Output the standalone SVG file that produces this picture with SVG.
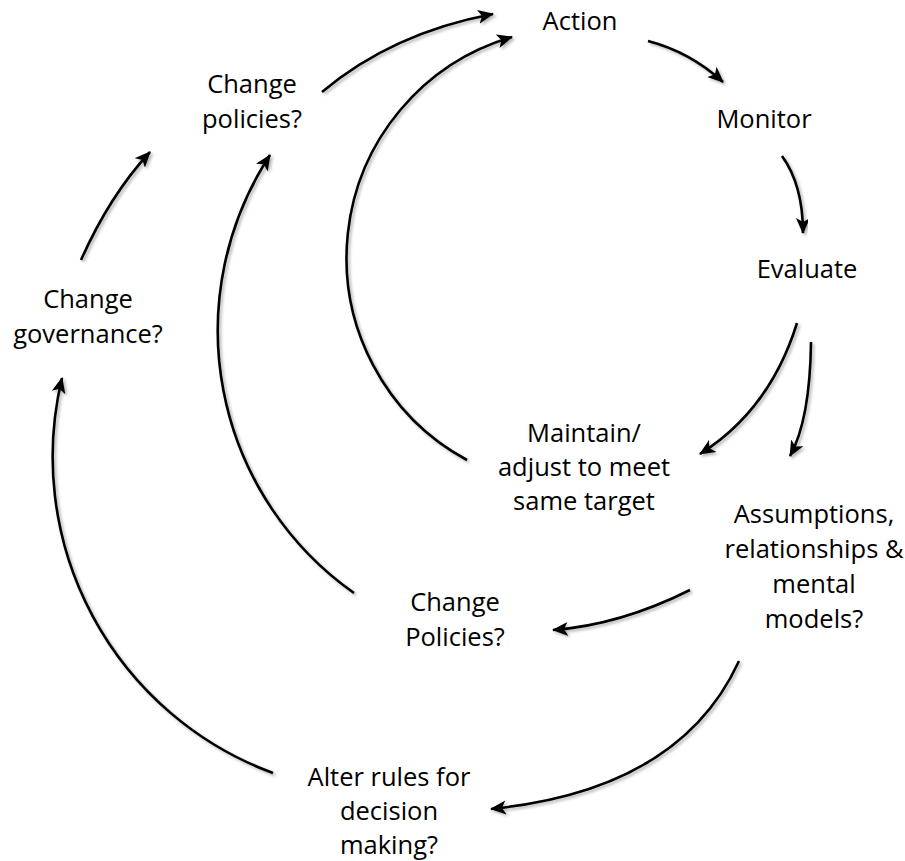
<svg xmlns="http://www.w3.org/2000/svg" width="905" height="861" viewBox="0 0 905 861">
<style>
text{font-family:"Open Sans","Noto Sans","Liberation Sans",sans-serif;font-size:25.5px;fill:#000;text-anchor:middle}
.c{fill:none;stroke:#000;stroke-width:2.6;marker-end:url(#ah);filter:url(#sh)}
.n{fill:none;stroke:#000;stroke-width:2.6;filter:url(#sh)}
</style>
<defs>
<marker id="ah" markerUnits="userSpaceOnUse" markerWidth="20" markerHeight="16" refX="15" refY="7" orient="auto" viewBox="0 0 20 16">
<path d="M0,0 L16,7 L0,14 L4,7 z" fill="#000"/>
</marker>
<filter id="sh" x="-10%" y="-10%" width="130%" height="130%">
<feDropShadow dx="2" dy="2" stdDeviation="1.5" flood-color="#000" flood-opacity="0.3"/>
</filter>
</defs>
<g id="connectors">
<path class="c" d="M322,92 Q392,33 493,14"/>
<path class="c" d="M467,460 A230 230 0 0 1 512,37"/>
<path class="c" d="M648,41 Q690,52 723,82"/>
<path class="c" d="M782,156 Q803,185 803,233"/>
<path class="c" d="M797,323 Q770,410 700,454"/>
<path class="c" d="M811,342 Q810,420 790,456"/>
<path class="c" d="M690,590 Q620,625 553,630"/>
<path class="c" d="M739,661 Q680,790 491,809"/>
<path class="c" d="M354,593 A321 321 0 0 1 270,155"/>
<path class="c" d="M273,773 A337 337 0 0 1 62,378"/>
<path class="c" d="M81,260 Q110,195 150,152"/>
</g>
<g id="action"><text x="580" y="30">Action</text></g>
<g id="monitor"><text x="764" y="128">Monitor</text></g>
<g id="evaluate"><text x="807" y="278">Evaluate</text></g>
<g id="change-policies-top"><text x="252" y="93">Change</text><text x="252" y="128">policies?</text></g>
<g id="change-governance"><text x="88" y="308">Change</text><text x="88" y="343">governance?</text></g>
<g id="maintain"><text x="584" y="442">Maintain/</text><text x="584" y="476">adjust to meet</text><text x="584" y="510">same target</text></g>
<g id="assumptions"><text x="814" y="523">Assumptions,</text><text x="814" y="558">relationships &amp;</text><text x="814" y="593">mental</text><text x="814" y="628">models?</text></g>
<g id="change-policies-bottom"><text x="455" y="611">Change</text><text x="455" y="646">Policies?</text></g>
<g id="alter-rules"><text x="389" y="786">Alter rules for</text><text x="389" y="820">decision</text><text x="389" y="854">making?</text></g>
</svg>
